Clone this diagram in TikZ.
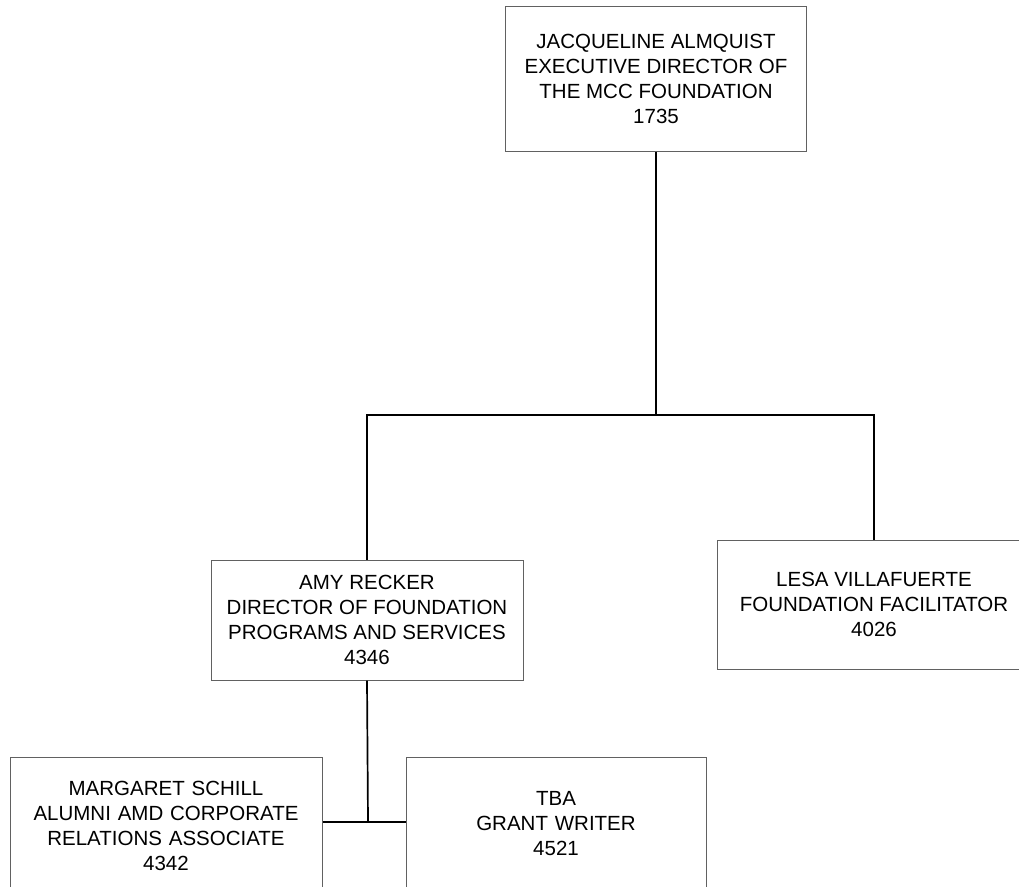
\documentclass[tikz,border=0pt]{standalone}
\usepackage{fontspec}
\setmainfont{Liberation Sans}
\tikzset{
  unit/.style={draw=black!62, line width=1pt, rectangle, align=center, inner sep=0pt, font=\fontsize{20.5}{25}\selectfont},
  cutunit/.style={unit, anchor=north, text width=#1, minimum width=#1, text depth=150pt},
  link/.style={line width=1.7pt, black}
}

\begin{document}
\begin{tikzpicture}[x=1pt,y=-1pt]
\useasboundingbox (0,0) rectangle (1019,886);
\fill[white] (0,0) rectangle (1019,886);
\clip (0,0) rectangle (1019,886);

\node[unit,minimum width=301pt,minimum height=145pt] (director) at (656,78.5) {JACQUELINE ALMQUIST\\ EXECUTIVE DIRECTOR OF\\ THE MCC FOUNDATION\\ 1735};

\node[unit,minimum width=312pt,minimum height=120pt] (recker) at (367,620) {AMY RECKER\\ DIRECTOR OF FOUNDATION\\ PROGRAMS AND SERVICES\\ 4346};
\node[unit,minimum width=314pt,minimum height=129pt] (villa) at (874,604.5) {LESA VILLAFUERTE\\ FOUNDATION FACILITATOR\\ 4026};

\node[cutunit=312pt,text height=38pt] (schill) at (166,757) {MARGARET SCHILL\\ ALUMNI AMD CORPORATE\\ RELATIONS ASSOCIATE\\ 4342};
\node[cutunit=300pt,text height=48pt] (tba) at (556,757) {TBA\\ GRANT WRITER\\ 4521};

\coordinate (topbus) at (656,415);
\coordinate (lowbus) at (368,822);

\draw[link] (director.south) -- (topbus);
\draw[link] (recker.north) |- (topbus) -| (villa.north);
\draw[link] (recker.south) -- (lowbus);
\draw[link] (schill.east |- lowbus) -- (tba.west |- lowbus);
\end{tikzpicture}
\end{document}
